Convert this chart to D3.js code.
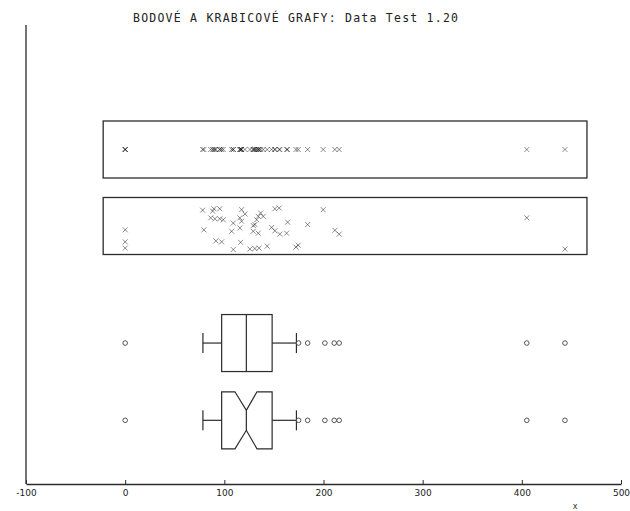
<!DOCTYPE html>
<html>
<head>
<meta charset="utf-8">
<script src="https://cdn.jsdelivr.net/npm/d3@7"></script>
<style>
  html, body { margin: 0; padding: 0; background: #fff; }
  svg { display: block; }
</style>
</head>
<body>
<svg id="chart" width="630" height="511"></svg>
<script>
// Sample values (Data Test 1.20)
const values = [
  78.1, 88.2, 89.5, 95.4, 117.4, 120.8, 136.6, 139.2, 151.0, 155.3, 199.7,
  86.2, 90.5, 95.4, 98.9, 109.0, 117.4, 115.7, 132.6, 134.2, 130.8, 163.8, 184.0,
  79.4, 107.4, 115.7, 129.1, 129.1, 134.2, 147.7, 151.0, 156.0, 162.8, 211.5, 215.8,
  91.5, 97.3, 109.0, 116.4, 125.8, 130.8, 135.1, 143.2, 172.2, 174.5,
  0, 0, 0, 405, 443.5
];
// Vertical jitter (0 = top, 1 = bottom of the jitter band), one per value
const jitter = [
  0.17, 0.19, 0.14, 0.14, 0.16, 0.25, 0.23, 0.30, 0.14, 0.125, 0.16,
  0.33, 0.35, 0.35, 0.37, 0.44, 0.40, 0.33, 0.37, 0.30, 0.47, 0.42, 0.47,
  0.58, 0.61, 0.54, 0.49, 0.61, 0.65, 0.53, 0.60, 0.67, 0.65, 0.59, 0.67,
  0.81, 0.83, 0.99, 0.84, 0.98, 0.97, 0.96, 0.92, 0.94, 0.90,
  0.58, 0.83, 0.96, 0.33, 0.98
];
// Box plot summary
const boxStats = { whiskerLow: 78.4, q1: 97.3, median: 122.2, q3: 148.2, whiskerHigh: 172.7 };
const notch = [110.7, 132.9];
const outliers = [0, 174.9, 184.0, 201.4, 210.8, 215.8, 405, 443.5];
const xTicks = [-100, 0, 100, 200, 300, 400, 500];
const title = "BODOVÉ A KRABICOVÉ GRAFY: Data Test 1.20";
const xLabel = "x";

const svg = d3.select("#chart");
const ink = "#2b2b2b";

const x = d3.scaleLinear().domain([-100, 500]).range([26, 621]);
// rows: dot strip, jitter strip, box plot, notched box plot
const row = d3.scaleLinear().domain([0, 1]).range([149.5, 226]);
const rowPos = { strip: 0, jitter: 1, box: 2.53, notched: 3.54 };
const rowHalf = 28.5;

// title
svg.append("text")
  .attr("x", 133).attr("y", 22)
  .attr("font-family", "DejaVu Sans Mono, monospace")
  .attr("font-size", 11.5)
  .attr("textLength", 325).attr("lengthAdjust", "spacing")
  .attr("fill", "#222")
  .text(title);

// axes
const axisY = 484;
const xAxis = d3.axisBottom(x).tickValues(xTicks)
  .tickSizeInner(-4).tickSizeOuter(0).tickPadding(6)
  .tickFormat(d3.format("d"));
const gx = svg.append("g").attr("transform", `translate(0,${axisY})`).call(xAxis);
gx.select(".domain").attr("stroke", ink).attr("stroke-width", 1.3);
gx.selectAll(".tick line").attr("stroke", ink);
gx.selectAll(".tick text")
  .attr("font-family", "DejaVu Sans, sans-serif").attr("font-size", 9).attr("fill", "#222")
  .text(d => d < 0 ? "-" + Math.abs(d) : d);

svg.append("line")
  .attr("x1", x(-100)).attr("x2", x(-100))
  .attr("y1", 25).attr("y2", axisY)
  .attr("stroke", ink).attr("stroke-width", 1.3);

svg.append("text")
  .attr("x", 575).attr("y", 509)
  .attr("text-anchor", "middle")
  .attr("font-family", "DejaVu Sans, sans-serif").attr("font-size", 8).attr("fill", "#333")
  .text(xLabel);

// frame around strips: data range extended by 5 % on each side
const [vmin, vmax] = d3.extent(values);
const pad = (vmax - vmin) * 0.05;

function cross(g, cx, cy) {
  const s = 2.5;
  g.append("path")
    .attr("d", `M${cx - s},${cy - s}L${cx + s},${cy + s}M${cx - s},${cy + s}L${cx + s},${cy - s}`)
    .attr("stroke", "#000").attr("stroke-opacity", 0.45).attr("stroke-width", 1)
    .attr("fill", "none");
}

["strip", "jitter"].forEach(key => {
  const cy = row(rowPos[key]);
  svg.append("rect")
    .attr("x", x(vmin - pad)).attr("y", cy - rowHalf)
    .attr("width", x(vmax + pad) - x(vmin - pad)).attr("height", rowHalf * 2)
    .attr("fill", "none").attr("stroke", ink).attr("stroke-width", 1.3);
});

// dot strip
const gStrip = svg.append("g");
values.forEach(v => cross(gStrip, x(v), row(rowPos.strip)));

// jittered strip
const gJit = svg.append("g");
const jy = d3.scaleLinear().domain([0, 1]).range([row(rowPos.jitter) - 24, row(rowPos.jitter) + 24]);
values.forEach((v, i) => cross(gJit, x(v), jy(jitter[i])));

// box plots
function drawBox(key, notched) {
  const cy = row(rowPos[key]);
  const top = cy - rowHalf, bot = cy + rowHalf;
  const g = svg.append("g").attr("stroke", ink).attr("stroke-width", 1.2).attr("fill", "none");
  const L = x(boxStats.q1), R = x(boxStats.q3), M = x(boxStats.median);
  if (notched) {
    const nL = x(notch[0]), nR = x(notch[1]);
    const nTop = cy - 10, nBot = cy + 10;
    g.append("path").attr("d",
      `M${L},${top}L${nL},${top}L${M},${nTop}L${nR},${top}L${R},${top}` +
      `L${R},${bot}L${nR},${bot}L${M},${nBot}L${nL},${bot}L${L},${bot}Z`);
    g.append("line").attr("x1", M).attr("x2", M).attr("y1", nTop).attr("y2", nBot);
  } else {
    g.append("rect").attr("x", L).attr("y", top).attr("width", R - L).attr("height", bot - top);
    g.append("line").attr("x1", M).attr("x2", M).attr("y1", top).attr("y2", bot);
  }
  const wl = x(boxStats.whiskerLow), wh = x(boxStats.whiskerHigh);
  g.append("line").attr("x1", wl).attr("x2", L).attr("y1", cy).attr("y2", cy);
  g.append("line").attr("x1", R).attr("x2", wh).attr("y1", cy).attr("y2", cy);
  g.append("line").attr("x1", wl).attr("x2", wl).attr("y1", cy - 10).attr("y2", cy + 10);
  g.append("line").attr("x1", wh).attr("x2", wh).attr("y1", cy - 10).attr("y2", cy + 10);
  svg.append("g").selectAll("circle").data(outliers).join("circle")
    .attr("cx", d => x(d)).attr("cy", cy).attr("r", 2.3)
    .attr("fill", "none").attr("stroke", "#555").attr("stroke-width", 1);
}
drawBox("box", false);
drawBox("notched", true);
</script>
</body>
</html>
